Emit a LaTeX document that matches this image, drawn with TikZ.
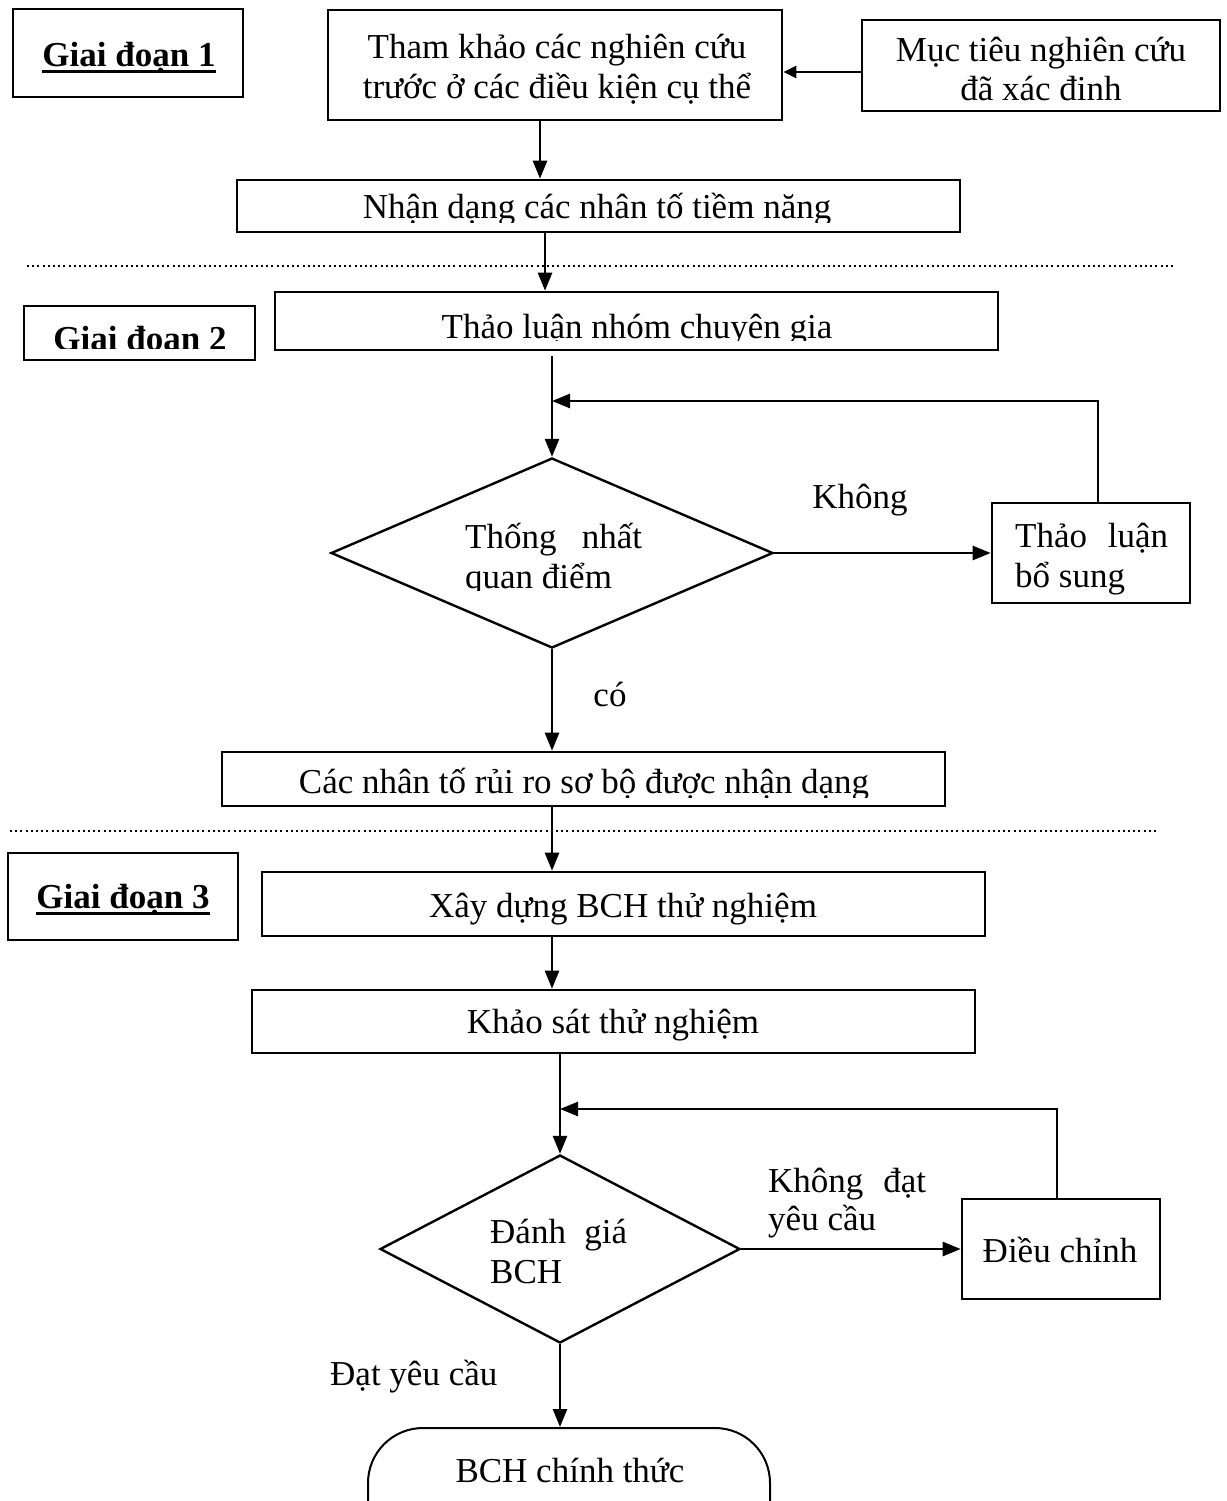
\documentclass[tikz,border=0pt]{standalone}
\usepackage{fontspec}
\setmainfont{Liberation Serif}
\usetikzlibrary{arrows.meta,shapes.geometric}
\newcommand{\myul}[1]{\setbox0\hbox{#1}\rlap{\rule[-6.5pt]{\wd0}{3pt}}\box0}
\begin{document}
\begin{tikzpicture}[x=1pt,y=-1pt,
  txt/.style={font=\fontsize{35}{40}\selectfont, inner sep=0pt},
  btxt/.style={font=\fontsize{35}{40}\selectfont\bfseries, inner sep=0pt},
  box/.style={draw, line width=2.6pt, inner sep=0pt, rectangle},
  dec/.style={draw, line width=2.4pt, inner sep=0pt, shape=diamond},
  term/.style={draw, line width=2pt, inner sep=0pt, rectangle, rounded corners=55pt},
  arr/.style={line width=2.6pt, -{Triangle[length=18pt,width=14pt]}},
  sarr/.style={line width=2.6pt, -{Triangle[length=13pt,width=12pt]}},
  dotline/.style={line width=2pt, dash pattern=on 2pt off 3.2pt}]
\useasboundingbox (0,0) rectangle (1226,1501);
\fill[white] (0,0) rectangle (1226,1501);

% ---------- Stage 1
\node[box,minimum width=230pt,minimum height=88pt] (g1) at (128,53) {};
\node[btxt,anchor=base] (g1t) at (129,67) {\myul{Giai đoạn 1}};

\node[box,minimum width=454pt,minimum height=110pt] (tk) at (555,65) {};
\node[txt,anchor=base] (tk1) at (557,59) {Tham khảo các nghiên cứu};
\node[txt,anchor=base] (tk2) at (557,99) {trước ở các điều kiện cụ thể};

\node[box,minimum width=358pt,minimum height=91pt] (mt) at (1041,65.5) {};
\node[txt,anchor=base] (mt1) at (1041,62) {Mục tiêu nghiên cứu};
\node[txt,anchor=base] (mt2) at (1041,101) {đã xác đinh};

\node[box,minimum width=723pt,minimum height=52pt] (nd) at (598.5,206) {};
\begin{scope}
  \clip (240,183) rectangle (957,222);
  \node[txt,anchor=base] (ndt) at (597,218) {Nhận dạng các nhân tố tiềm năng};
\end{scope}

\draw[sarr] (mt.west |- 0,72) -- (tk.east |- 0,72);
\draw[arr] (tk.south -| 540,0) -- (nd.north -| 540,0);

% ---------- separator 1
\draw[dotline] (27,266) -- (1174,266);

% ---------- Stage 2
\node[box,minimum width=231pt,minimum height=54pt] (g2) at (139.5,333) {};
\begin{scope}
  \clip (27,309) rectangle (252,348);
  \node[btxt,anchor=base] (g2t) at (140,350) {\myul{Giai đoạn 2}};
\end{scope}

\node[box,minimum width=723pt,minimum height=58pt] (tln) at (636.5,321) {};
\begin{scope}
  \clip (278,295) rectangle (995,340);
  \node[txt,anchor=base] (tlnt) at (637,338) {Thảo luận nhóm chuyên gia};
\end{scope}
\draw[arr] (nd.south -| 545,0) -- (tln.north -| 545,0);

\node[dec,minimum width=442pt,minimum height=190pt] (d1) at (552,553) {};
\node[txt,anchor=base west] (d1a) at (465,548) {\makebox[177pt][s]{Thống nhất}};
\begin{scope}
  \clip (450,500) rectangle (660,590);
  \node[txt,anchor=base west] (d1b) at (465,588) {quan điểm};
\end{scope}
\coordinate (s1) at (552,356);
\draw[arr] (s1) -- (d1.north);

\node[box,minimum width=198pt,minimum height=100pt] (tlbs) at (1091,553) {};
\node[txt,anchor=base west] (tlbs1) at (1015,547) {\makebox[153pt][s]{Thảo luận}};
\node[txt,anchor=base west] (tlbs2) at (1015,587) {bổ sung};

\draw[arr] (d1.east) -- (tlbs.west);
\node[txt,anchor=base] (lk1) at (860,508) {Không};
\coordinate (f1) at (1098,401);
\draw[arr] (tlbs.north -| f1) -- (f1) -- (f1 -| d1.north);

\node[box,minimum width=723pt,minimum height=54pt] (cnt) at (583.5,779) {};
\begin{scope}
  \clip (225,755) rectangle (942,797);
  \node[txt,anchor=base] (cntt) at (584,793) {Các nhân tố rủi ro sơ bộ được nhận dạng};
\end{scope}
\draw[arr] (d1.south) -- (cnt.north -| d1.south);
\node[txt,anchor=base] (lco) at (610,706) {có};

% ---------- separator 2
\draw[dotline] (10,831) -- (1156,831);

% ---------- Stage 3
\node[box,minimum width=230pt,minimum height=87pt] (g3) at (123,896.5) {};
\node[btxt,anchor=base] (g3t) at (123,908) {\myul{Giai đoạn 3}};

\node[box,minimum width=723pt,minimum height=64pt] (xd) at (623.5,904) {};
\node[txt,anchor=base] (xdt) at (623,917) {Xây dựng BCH thử nghiệm};
\draw[arr] (cnt.south -| 552,0) -- (xd.north -| 552,0);

\node[box,minimum width=723pt,minimum height=63pt] (ks) at (613.5,1021.5) {};
\node[txt,anchor=base] (kst) at (613,1033) {Khảo sát thử nghiệm};
\draw[arr] (xd.south -| 552,0) -- (ks.north -| 552,0);

\node[dec,minimum width=360pt,minimum height=188pt] (d2) at (560,1249) {};
\node[txt,anchor=base west] (d2a) at (490,1243) {\makebox[137pt][s]{Đánh giá}};
\node[txt,anchor=base west] (d2b) at (490,1283) {BCH};
\draw[arr] (ks.south -| d2.north) -- (d2.north);

\node[box,minimum width=198pt,minimum height=100pt] (dc) at (1061,1249) {};
\node[txt,anchor=base] (dct) at (1060,1262) {Điều chỉnh};
\draw[arr] (d2.east) -- (dc.west);
\node[txt,anchor=base west] (lk2a) at (768,1192) {\makebox[158pt][s]{Không đạt}};
\node[txt,anchor=base west] (lk2b) at (768,1230) {yêu cầu};
\coordinate (f2) at (1057,1109);
\draw[arr] (dc.north -| f2) -- (f2) -- (f2 -| d2.north);

\node[txt,anchor=base west] (ldat) at (330,1385) {Đạt yêu cầu};

\begin{scope}
  \clip (0,0) rectangle (1226,1501);
  \node[term,minimum width=402pt,minimum height=150pt] (t) at (569,1503) {};
  \node[txt,anchor=base] (tt) at (570,1482) {BCH chính thức};
\end{scope}
\draw[arr] (d2.south) -- (d2.south |- t.north);
\end{tikzpicture}
\end{document}
